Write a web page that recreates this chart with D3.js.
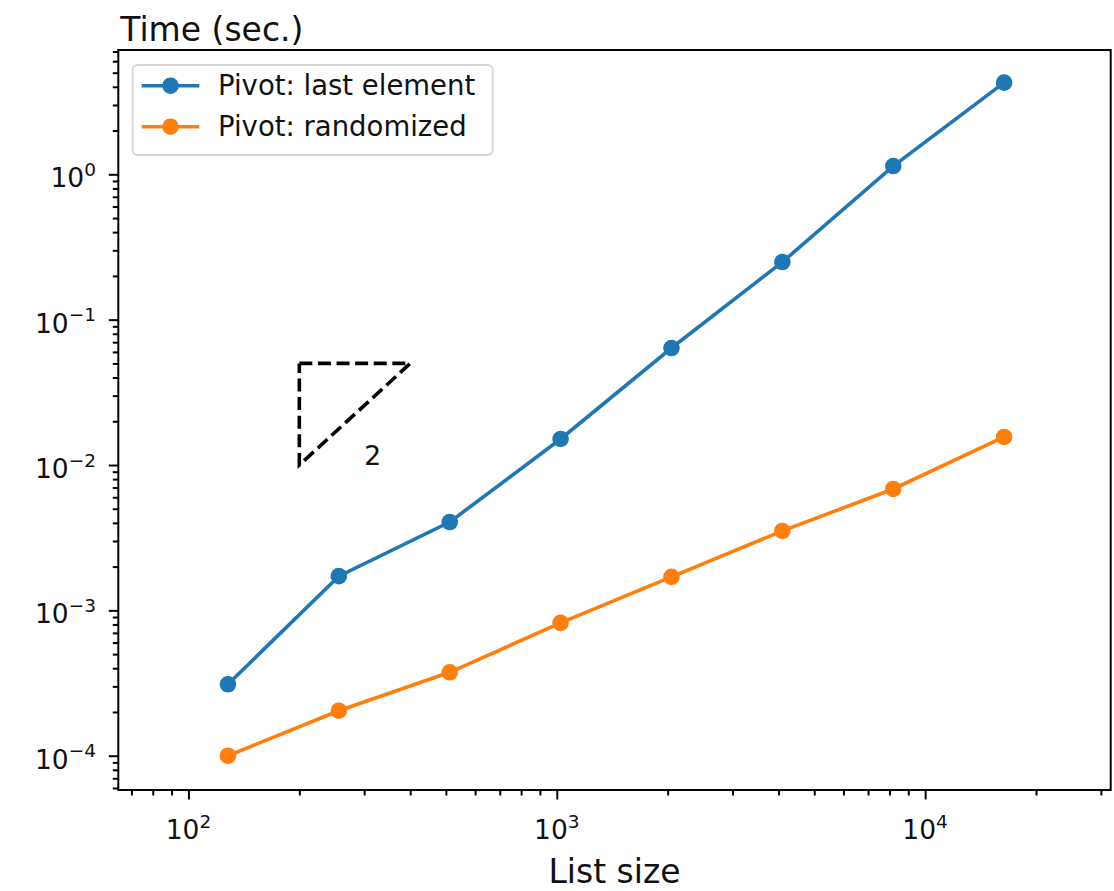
<!DOCTYPE html>
<html>
<head>
<meta charset="utf-8">
<script src="https://cdn.jsdelivr.net/npm/d3@7"></script>
<style>
  html, body { margin: 0; padding: 0; background: #fff; }
  svg { display: block; font-family: "DejaVu Sans", sans-serif; }
</style>
</head>
<body>
<svg id="chart" width="1114" height="891"></svg>
<script>
// ---- data ----
const listSizes = [128, 256, 512, 1024, 2048, 4096, 8192, 16384];
const timeLastElement = [3.10e-4, 1.72e-3, 4.05e-3, 0.0151, 0.0638, 0.249, 1.14, 4.27];
const timeRandomized = [1.0e-4, 2.04e-4, 3.75e-4, 8.2e-4, 1.70e-3, 3.52e-3, 6.84e-3, 0.0156];
const seriesNames = ["Pivot: last element", "Pivot: randomized"];
const seriesColors = ["#1f77b4", "#ff7f0e"];
const xTickExponents = [2, 3, 4];
const yTickExponents = [-4, -3, -2, -1, 0];
const slopeTriangleX = [200, 400, 200, 200];
const slopeTriangleY = [0.05, 0.05, 0.01, 0.05];
const slopeLabel = { x: 300, y: 0.01, text: "2" };
const xLabel = "List size";
const yLabel = "Time (sec.)";

// ---- layout ----
const svg = d3.select("#chart");
const L = 118.3, R = 1110.7, T = 50, B = 790;
const x = d3.scaleLog().domain([64.5, 31900]).range([L, R]);
const y = d3.scaleLog().domain([5.81e-5, 7.165]).range([B, T]);

const tickFont = 26.5;
const supFont = 18.5;
const legendFont = 27.5;
const lw = 3.6;
const mr = 8.3;

function minorTicks(scale) {
  const [d0, d1] = scale.domain();
  const out = [];
  for (let e = Math.floor(Math.log10(d0)); e <= Math.ceil(Math.log10(d1)); e++) {
    for (let m = 2; m <= 9; m++) {
      const v = m * Math.pow(10, e);
      if (v >= d0 && v <= d1) out.push(v);
    }
  }
  return out;
}

// minor + major ticks via d3 axes
const gx = svg.append("g").attr("transform", `translate(0,${B})`);
gx.append("g").call(d3.axisBottom(x).tickValues(minorTicks(x)).tickSize(5.5).tickFormat(""));
gx.append("g").call(d3.axisBottom(x).tickValues(xTickExponents.map(e => Math.pow(10, e))).tickSize(9.5).tickFormat(""));
const gy = svg.append("g").attr("transform", `translate(${L},0)`);
gy.append("g").call(d3.axisLeft(y).tickValues(minorTicks(y)).tickSize(5.5).tickFormat(""));
gy.append("g").call(d3.axisLeft(y).tickValues(yTickExponents.map(e => Math.pow(10, e))).tickSize(9.5).tickFormat(""));
svg.selectAll(".domain").remove();
svg.selectAll(".tick line").attr("stroke", "#000").attr("stroke-width", 2);

// tick labels with superscripts
function expLabel(sel, e) {
  sel.append("tspan").text("10");
  sel.append("tspan").attr("font-size", supFont).attr("dy", -11.5)
    .text(e < 0 ? "\u2212" + Math.abs(e) : String(e));
}
xTickExponents.forEach(e => {
  const t = svg.append("text").attr("x", x(Math.pow(10, e))).attr("y", 839)
    .attr("text-anchor", "middle").attr("font-size", tickFont).attr("fill", "#111");
  expLabel(t, e);
});
yTickExponents.forEach(e => {
  const t = svg.append("text").attr("x", 96).attr("y", y(Math.pow(10, e)) + 13)
    .attr("text-anchor", "end").attr("font-size", tickFont).attr("fill", "#111");
  expLabel(t, e);
});

// slope triangle
const tri = slopeTriangleX.map((v, i) => [x(v), y(slopeTriangleY[i])]);
svg.append("path").attr("d", d3.line()(tri)).attr("fill", "none")
  .attr("stroke", "#000").attr("stroke-width", lw)
  .attr("stroke-dasharray", "13,5.6");
svg.append("text").attr("x", x(slopeLabel.x)).attr("y", y(slopeLabel.y))
  .attr("font-size", tickFont).attr("fill", "#111").text(slopeLabel.text);

// series
const allSeries = [timeLastElement, timeRandomized];
const line = d3.line().x((d, i) => x(listSizes[i])).y(d => y(d));
allSeries.forEach((vals, k) => {
  svg.append("path").attr("d", line(vals)).attr("fill", "none")
    .attr("stroke", seriesColors[k]).attr("stroke-width", lw);
  svg.append("g").selectAll("circle").data(vals).join("circle")
    .attr("cx", (d, i) => x(listSizes[i])).attr("cy", d => y(d)).attr("r", mr)
    .attr("fill", seriesColors[k]);
});

// spines
svg.append("rect").attr("x", L).attr("y", T).attr("width", R - L).attr("height", B - T)
  .attr("fill", "none").attr("stroke", "#000").attr("stroke-width", 2);

// legend
const lg = svg.append("g");
lg.append("rect").attr("x", 132.7).attr("y", 65).attr("width", 360).attr("height", 90)
  .attr("rx", 5).attr("fill", "#fff").attr("fill-opacity", 0.8)
  .attr("stroke", "#d6d6d6").attr("stroke-width", 1.8);
seriesNames.forEach((name, k) => {
  const ry = 85.7 + k * 41;
  lg.append("line").attr("x1", 141.7).attr("x2", 199.3).attr("y1", ry).attr("y2", ry)
    .attr("stroke", seriesColors[k]).attr("stroke-width", lw);
  lg.append("circle").attr("cx", 170.5).attr("cy", ry).attr("r", mr).attr("fill", seriesColors[k]);
  lg.append("text").attr("x", 218).attr("y", ry + 9.5).attr("font-size", legendFont)
    .attr("fill", "#111").text(name);
});

// axis labels
svg.append("text").attr("x", (L + R) / 2).attr("y", 883).attr("text-anchor", "middle")
  .attr("font-size", 33).attr("fill", "#111").text(xLabel);
svg.append("text").attr("x", L + 2).attr("y", 41).attr("text-anchor", "start")
  .attr("font-size", 33).attr("fill", "#111").text(yLabel);
</script>
</body>
</html>
